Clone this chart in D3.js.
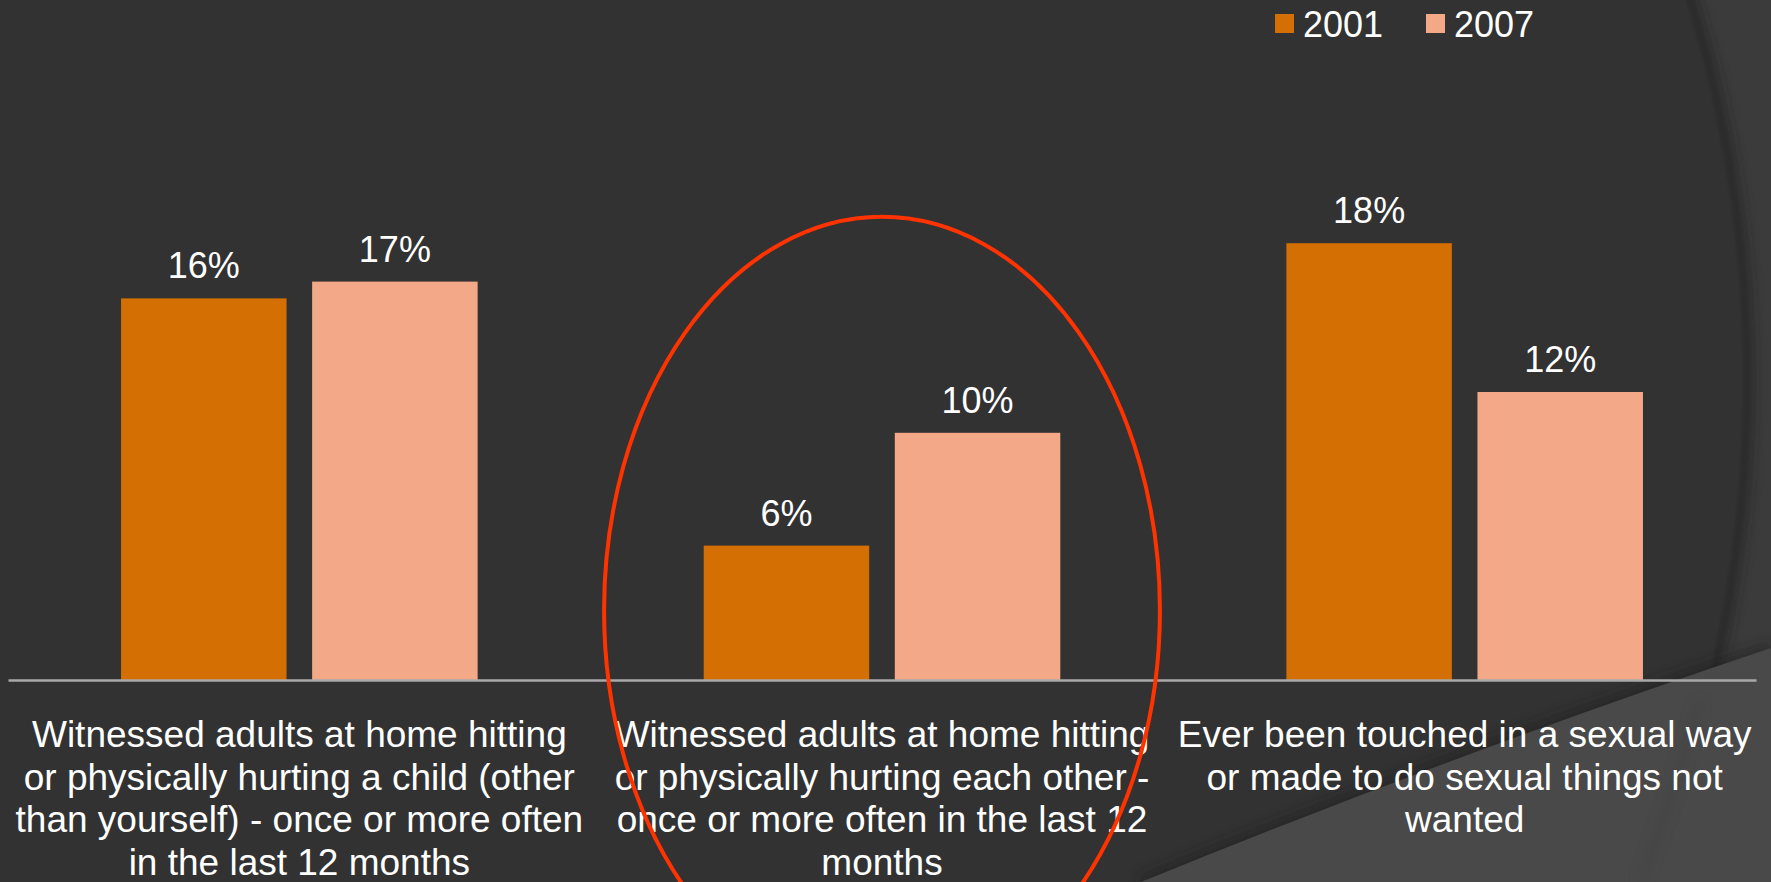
<!DOCTYPE html>
<html>
<head>
<meta charset="utf-8">
<script src="https://cdn.jsdelivr.net/npm/d3@7"></script>
<style>
  html, body { margin: 0; padding: 0; background: #323232; overflow: hidden; }
  svg { display: block; font-family: "Liberation Sans", Arial, sans-serif; }
</style>
</head>
<body>
<script>
// category labels, one entry per line as in the original slide
const categories = [
  ["Witnessed adults at home hitting", "or physically hurting a child (other", "than yourself) - once or more often", "in the last 12 months"],
  ["Witnessed adults at home hitting", "or physically hurting each other -", "once or more often in the last 12", "months"],
  ["Ever been touched in a sexual way", "or made to do sexual things not", "wanted"]
];
const years = ["2001", "2007"];
const values2001 = [15.9, 5.6, 18.2];
const values2007 = [16.6, 10.3, 12.0];
const colors = ["#D46F04", "#F3A987"];

const width = 1771,
  height = 882;

const svg = d3.select("body")
  .append("svg")
  .attr("width", width)
  .attr("height", height);

// ---- slide background (theme arcs) ----
const defs = svg.append("defs");
defs.append("filter").attr("id", "soft")
  .attr("x", "-20%").attr("y", "-20%").attr("width", "140%").attr("height", "140%")
  .append("feGaussianBlur").attr("stdDeviation", 6);

const bg = svg.append("g").attr("class", "background");
bg.append("rect").attr("width", width).attr("height", height).attr("fill", "#3b3b3b");
bg.append("circle")
  .attr("cx", 447).attr("cy", 380).attr("r", 1300)
  .attr("fill", "none").attr("stroke", "#1e1e1e").attr("stroke-width", 14)
  .attr("opacity", 0.55).attr("filter", "url(#soft)");
bg.append("circle")
  .attr("cx", 447).attr("cy", 380).attr("r", 1295)
  .attr("fill", "#323232");
bg.append("path")
  .attr("d", "M1141,882 Q1460,752 1771,648")
  .attr("fill", "none").attr("stroke", "#1c1c1c").attr("stroke-width", 12)
  .attr("opacity", 0.5).attr("filter", "url(#soft)");
bg.append("path")
  .attr("d", "M1141,882 Q1460,752 1771,648 L1771,882 Z")
  .attr("fill", "#494949");
bg.append("path")
  .attr("d", "M1700,700 Q1672,800 1640,882")
  .attr("fill", "none").attr("stroke", "#3f3f3f").attr("stroke-width", 6)
  .attr("opacity", 0.6).attr("filter", "url(#soft)");

// ---- scales ----
const x0 = d3.scaleBand()
  .domain(d3.range(categories.length))
  .range([8, 1756])
  .paddingInner(0)
  .paddingOuter(0);

const x1 = d3.scaleBand()
  .domain(years)
  .range([x0.bandwidth() * 0.194, x0.bandwidth() * 0.806])
  .paddingInner(0.134);

const y = d3.scaleLinear()
  .domain([0, 20])
  .range([680, 200]);

const color = d3.scaleOrdinal().domain(years).range(colors);
const fmt = v => d3.format(".0f")(v) + "%";

const rows = categories.map((c, i) => ({
  index: i,
  values: [
    { year: years[0], value: values2001[i] },
    { year: years[1], value: values2007[i] }
  ]
}));

const chart = svg.append("g").attr("class", "chart");

// ---- bars ----
const group = chart.selectAll("g.group")
  .data(rows)
  .enter()
  .append("g")
  .attr("class", "group")
  .attr("transform", d => `translate(${x0(d.index)},0)`);

group.selectAll("rect")
  .data(d => d.values)
  .enter()
  .append("rect")
  .attr("x", d => x1(d.year))
  .attr("y", d => y(d.value))
  .attr("width", x1.bandwidth())
  .attr("height", d => y(0) - y(d.value))
  .attr("fill", d => color(d.year));

group.selectAll("text.value")
  .data(d => d.values)
  .enter()
  .append("text")
  .attr("class", "value")
  .attr("x", d => x1(d.year) + x1.bandwidth() / 2)
  .attr("y", d => y(d.value) - 20)
  .attr("text-anchor", "middle")
  .attr("fill", "#ffffff")
  .style("font-size", "36px")
  .text(d => fmt(d.value));

// ---- x axis ----
const xAxis = chart.append("g")
  .attr("class", "x-axis")
  .attr("transform", `translate(0,${y(0)})`)
  .call(d3.axisBottom(x0).tickSize(0).tickSizeOuter(0).tickFormat(""));

xAxis.select(".domain")
  .attr("stroke", "#a9a9a9")
  .attr("stroke-width", 2.5);

xAxis.selectAll(".tick text").remove();
xAxis.selectAll(".tick")
  .append("text")
  .attr("text-anchor", "middle")
  .attr("fill", "#ffffff")
  .style("font-size", "37px")
  .selectAll("tspan")
  .data(d => categories[d])
  .enter()
  .append("tspan")
  .attr("x", 0)
  .attr("y", (d, i) => 67 + i * 42.7)
  .text(d => d);

// ---- legend ----
const legend = svg.append("g")
  .attr("class", "legend")
  .attr("transform", "translate(1275,14)");

const legendItem = legend.selectAll("g")
  .data(years)
  .enter()
  .append("g")
  .attr("transform", (d, i) => `translate(${i * 151},0)`);

legendItem.append("rect")
  .attr("width", 19)
  .attr("height", 19)
  .attr("fill", d => color(d));

legendItem.append("text")
  .attr("x", 28)
  .attr("y", 23)
  .attr("fill", "#ffffff")
  .style("font-size", "36px")
  .text(d => d);

// ---- red highlight ellipse round the middle group ----
chart.append("ellipse")
  .attr("cx", x0(1) + x0.bandwidth() / 2)
  .attr("cy", y(2.9))
  .attr("rx", x0.bandwidth() * 0.477)
  .attr("ry", y(2.9) - y(19.3))
  .attr("fill", "none")
  .attr("stroke", "#FF3300")
  .attr("stroke-width", 4);
</script>
</body>
</html>
